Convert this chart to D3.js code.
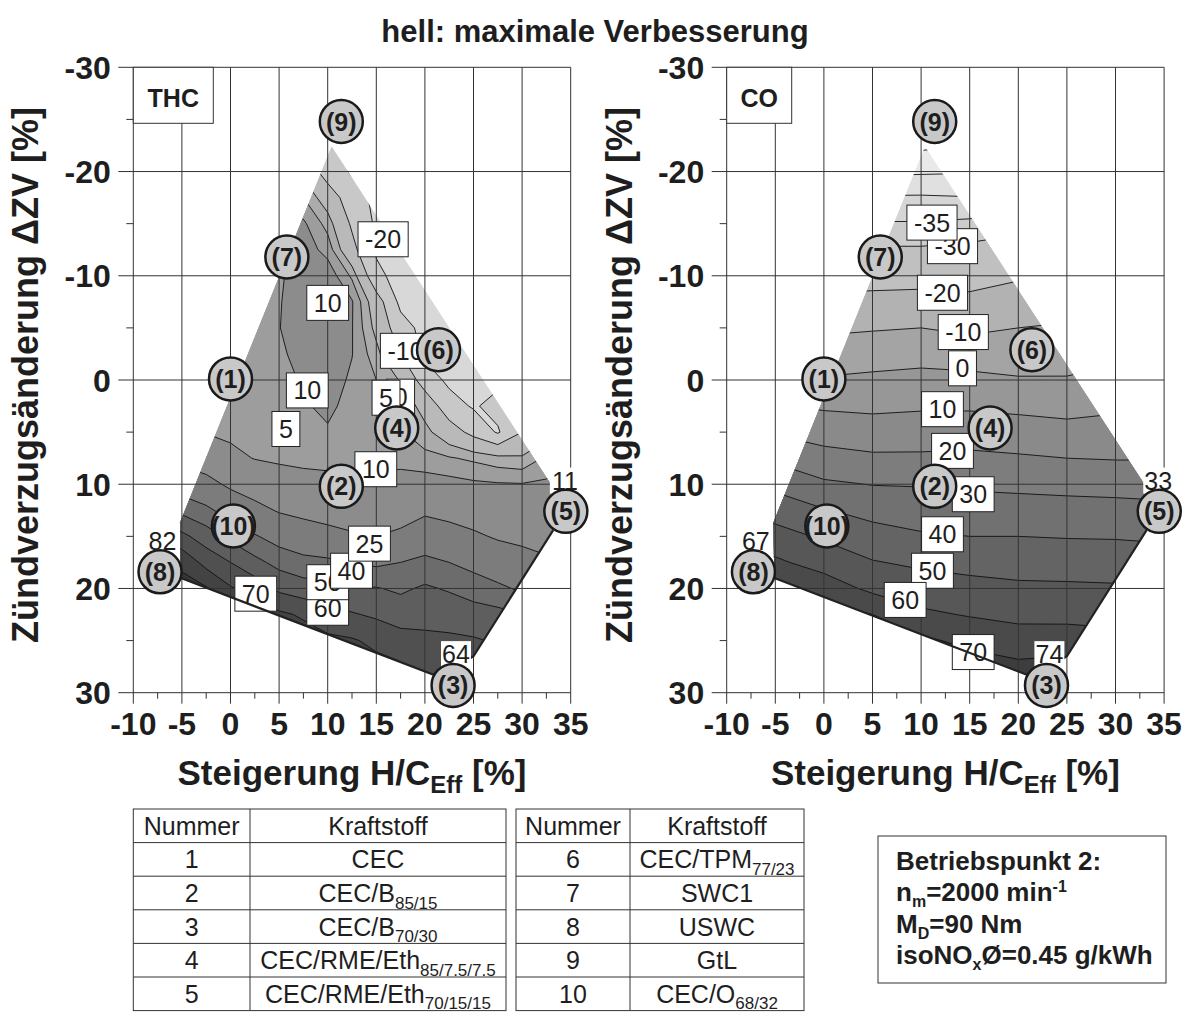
<!DOCTYPE html>
<html>
<head>
<meta charset="utf-8">
<script src="https://cdn.jsdelivr.net/npm/d3@7/dist/d3.min.js"></script>
<style>
  body { margin: 0; background: #fff; }
  svg { display: block; font-family: "Liberation Sans", Arial, Helvetica, sans-serif; }
</style>
</head>
<body>
<svg id="chart" width="1189" height="1012"></svg>
<script>
// ---- axes ----
const xTickValues = [-10, -5, 0, 5, 10, 15, 20, 25, 30, 35];
const xMinorValues = [-7.5, -2.5, 2.5, 7.5, 12.5, 17.5, 22.5, 27.5, 32.5];
const yTickValues = [-30, -20, -10, 0, 10, 20, 30];
const yMinorValues = [-25, -15, -5, 5, 15, 25];

// ---- outline of the measured field (H/C, dZV) ----
const hullX = [10.4, 33.1, 33.2, 25.0, 21.5, -5.1, -5.2];
const hullY = [-22.4, 10.2, 14.4, 26.5, 28.5, 19.0, 13.7];
const edgeIdx = [2, 3, 4, 5]; // lower edges drawn as a heavy line

// ---- fuel markers ----
const fuelLabel = ['(1)', '(2)', '(3)', '(4)', '(5)', '(6)', '(7)', '(8)', '(9)', '(10)'];
const fuelX = [0, 11.4, 22.9, 17.1, 34.5, 21.4, 5.8, -7.25, 11.4, 0.3];
const fuelY = [-0.1, 10.2, 29.3, 4.6, 12.6, -2.9, -11.8, 18.4, -24.8, 14.0];

// ---- value grids (rows: dZV -25..30 step 2.5) ----
const gridY0 = -25, gridDY = 2.5;

// THC, columns H/C -10..35 step 2.5
const thcX0 = -10, thcDX = 2.5;
const thcGrid = [
  [4, 4, 4, 4, 4, 3, 0, -6, -14, -22, -23, -23, -23, -23, -23, -23, -23, -23, -23],
  [5, 5, 5, 5, 5, 4, 1, -8, -16, -23, -23, -23, -23, -23, -23, -23, -23, -23, -23],
  [7, 7, 7, 7, 7, 6, 4, -2, -15, -21, -23, -23, -23, -23, -23, -23, -23, -23, -23],
  [8, 8, 8, 8, 8, 7, 6, 5, -4, -16, -22, -23, -23, -23, -23, -23, -23, -23, -23],
  [8, 8, 8, 8, 8, 8, 11, 11, 3, -11.5, -21.5, -23, -23, -23, -23, -23, -23, -23, -23],
  [8, 8, 8, 8, 8, 8, 9, 13, 8, -7, -21, -23, -23, -23, -23, -23, -23, -23, -23],
  [8, 8, 8, 8, 8, 8, 9, 13.5, 13.5, 4, -18, -23, -24, -24, -24, -24, -24, -24, -24],
  [8, 8, 8, 8, 8, 8, 9.5, 14, 14, 10.5, -5, -22.5, -24, -24, -24, -24, -24, -24, -24],
  [8, 8, 8, 7.5, 7, 7.5, 9.8, 13.5, 14, 10.3, -2, -16, -23, -24, -24, -24, -24, -24, -24],
  [8, 8, 8, 7.5, 7, 8, 9, 12, 13.5, 10.2, 2, -10, -22, -26, -23, -23, -23, -23, -23],
  [8, 8, 8, 7.5, 7, 7.5, 8.5, 10.5, 13, 9, 5, -0.5, -15, -22, -24, -22, -18, -15, -12],
  [9, 8.5, 8, 7.5, 7, 7.5, 8.5, 9.5, 11, 8.5, 6.5, 5, -3, -16, -21, -17, -12, -8, -4],
  [14, 12, 10, 9.5, 8, 7.5, 7.5, 8.5, 9.5, 8.5, 7, 5.5, 2, -5, -13, -21, -10, -3, 2],
  [27, 24, 20.7, 17.9, 12.8, 9.6, 8.5, 8, 8.5, 9, 9, 8.5, 6.5, 5.5, 4, 2, 1, 6, 9],
  [42, 38, 34, 29.3, 22.6, 18.5, 15, 13.1, 11.6, 10.8, 11, 12, 13, 12, 11, 10.5, 10.3, 11, 12],
  [56, 52, 47.5, 42.5, 34.8, 28.9, 23.9, 21.6, 19.6, 18.1, 18, 19.5, 22.8, 20.9, 19, 17.1, 16.3, 14, 14],
  [71, 67, 62.5, 55, 47.5, 41, 35.3, 31.8, 29.3, 26.6, 25, 27.5, 32.7, 30.1, 26.9, 23.7, 22.2, 20, 19],
  [82, 80, 77.7, 66.5, 60, 52.9, 46.8, 43.3, 42.2, 39.5, 37.9, 40, 42.7, 40, 36.3, 32.5, 29.5, 27, 25],
  [87, 86, 84, 81, 71, 65.9, 57.8, 54.6, 53, 51.2, 50.6, 48.3, 51.4, 48.9, 45.8, 42.2, 38.3, 35, 32],
  [89, 88, 87, 86, 78, 76, 72, 68.6, 64.5, 60.9, 58.4, 55.7, 57, 56.5, 54, 53, 50.5, 45, 42],
  [91, 90, 89, 88, 83, 81, 78, 75, 72, 71, 67.7, 63.8, 62, 61.5, 61, 59, 57, 54, 51],
  [92, 91, 90, 89, 86, 85, 83, 80, 77, 75, 73, 71.5, 66, 63.5, 64, 63, 62, 60, 58],
  [93, 92, 91, 90, 88, 87, 86, 84, 81, 79, 77, 75, 69, 66, 67, 66, 65, 64, 62]
];
const thcLevels = [-25, -20, -10, 0, 5, 10, 25, 40, 50, 60, 70, 80];
const thcFills = ['#e2e2e2', '#d8d8d8', '#c8c8c8', '#b9b9b9', '#ababab', '#9d9d9d', '#8c8c8c',
  '#7c7c7c', '#6c6c6c', '#5e5e5e', '#505050', '#434343', '#373737'];

// CO, columns H/C -10..35 step 5
const coX0 = -10, coDX = 5;
const coGrid = [
  [-57, -57, -57, -57, -57, -58, -58, -58, -58, -58],
  [-51, -51, -51, -51, -51, -50.2, -51, -51, -51, -51],
  [-46, -46, -46, -46, -45.7, -45.4, -45, -45, -45, -45],
  [-40, -40, -40, -39.5, -39.4, -39.8, -38.8, -39, -39, -39],
  [-35, -35, -35, -34.6, -34.6, -33.9, -32.5, -33, -33, -33],
  [-29.5, -29.5, -29.5, -29.3, -29.3, -28.5, -26.7, -27, -27, -27],
  [-24, -24, -24, -23.5, -23.3, -23.3, -21.1, -21.5, -21.5, -21.5],
  [-18, -18, -17.8, -17.4, -16.9, -17.9, -15.6, -16, -16, -16],
  [-12, -12, -11.7, -10.8, -10, -11.9, -10, -8.5, -7.8, -7.5],
  [-5, -5.5, -5.5, -4.4, -3.4, -4.7, -4.7, -4, -2.2, -2],
  [3, 1.8, 0.9, 2, 2.9, 2.5, 0.8, 0.7, 3.1, 3.5],
  [12.5, 10.7, 8.75, 8, 8.8, 8.75, 7.8, 6.8, 8.3, 8.5],
  [21, 19, 16, 14.6, 15, 15.4, 14.5, 13.2, 13.9, 14],
  [30.5, 28.1, 23.4, 21.6, 21.6, 22.1, 21.1, 20, 19.5, 19.5],
  [39.5, 37.4, 31.5, 29.7, 29.4, 28.5, 27.8, 27.1, 26.6, 26],
  [48, 45.8, 40.6, 36.9, 35.2, 34.3, 34, 33.6, 33.2, 32.5],
  [56, 53.75, 48.7, 43.8, 41.1, 40, 40, 39.5, 39.3, 38.5],
  [63, 61.7, 56, 50.6, 48.3, 46.8, 46, 45.6, 45.2, 44.5],
  [71, 70, 65.5, 57.7, 54.8, 53.2, 51.8, 51.6, 51.2, 50.5],
  [77, 76, 74, 70, 61.8, 59.3, 57.5, 57.3, 57, 56.5],
  [81, 80, 78, 75, 72, 67.3, 64.4, 64.6, 63, 62.5],
  [84, 83, 81, 79, 78, 75, 72.2, 73.5, 70, 69],
  [86, 85, 84, 82, 82, 80, 78, 79, 76, 75]
];
const coLevels = [-50, -45, -40, -35, -30, -20, -10, 0, 10, 20, 30, 40, 50, 60, 70];
const coFills = ['#f2f2f2', '#e9e9e9', '#e0e0e0', '#d6d6d6', '#cccccc', '#c0c0c0', '#b2b2b2', '#a4a4a4',
  '#979797', '#8a8a8a', '#7d7d7d', '#717171', '#646464', '#575757', '#4a4a4a', '#3d3d3d'];

// ---- contour labels ----
const thcLabelText = ['0', '5', '-10', '-20', '10', '10', '5', '10', '60', '50', '40', '25', '70'];
const thcLabelX = [17.5, 16.0, 18.0, 15.7, 10.0, 7.9, 5.7, 14.95, 10.0, 10.0, 12.45, 14.3, 2.6];
const thcLabelY = [1.6, 1.7, -2.8, -13.5, -7.4, 1.0, 4.7, 8.56, 21.85, 19.4, 18.3, 15.7, 20.5];
const coLabelText = ['-30', '-35', '-20', '-10', '0', '10', '20', '30', '40', '50', '60', '70'];
const coLabelX = [13.23, 11.12, 12.2, 14.34, 14.26, 12.2, 13.23, 15.36, 12.2, 11.17, 8.36, 15.36];
const coLabelY = [-12.84, -15.1, -8.37, -4.6, -1.12, 2.8, 6.8, 10.96, 14.8, 18.3, 21.1, 26.1];

// values written at the corners (8), (3), (5)
const cornerX = [-7.0, 23.2, 34.4];
const cornerY = [15.45, 26.3, 9.65];
const thcCornerText = ['82', '64', '11'];
const coCornerText = ['67', '74', '33'];

// ---- fuel table ----
const tableNum = ['1', '2', '3', '4', '5', '6', '7', '8', '9', '10'];
const fuelName = ['CEC', 'CEC/B', 'CEC/B', 'CEC/RME/Eth', 'CEC/RME/Eth', 'CEC/TPM', 'SWC1', 'USWC', 'GtL', 'CEC/O'];
const fuelSub = ['', '85/15', '70/30', '85/7.5/7.5', '70/15/15', '77/23', '', '', '', '68/32'];

const svg = d3.select('#chart');
const ink = '#1e1e1e';
const plotTop = 67.3, plotBottom = 692.7, plotW = 437.4;

svg.append('text')
  .attr('x', 595).attr('y', 42)
  .attr('text-anchor', 'middle')
  .attr('font-size', 31).attr('font-weight', 'bold').attr('fill', ink)
  .text('hell: maximale Verbesserung');

function drawPanel(p) {
  const x = d3.scaleLinear().domain([-10, 35]).range([p.left, p.left + plotW]);
  const y = d3.scaleLinear().domain([-30, 30]).range([plotTop, plotBottom]);
  const g = svg.append('g');

  const hullPts = hullX.map((hx, i) => [x(hx), y(hullY[i])]);
  svg.append('clipPath').attr('id', 'clip-' + p.name)
    .append('polygon').attr('points', hullPts.join(' '));

  // filled contour bands
  const ny = p.grid.length, nx = p.grid[0].length;
  const contours = d3.contours().size([nx, ny]).thresholds(p.levels)(p.grid.flat());
  const proj = d3.geoTransform({
    point(cx, cy) {
      this.stream.point(x(p.gx0 + (cx - 0.5) * p.gdx), y(gridY0 + (cy - 0.5) * gridDY));
    }
  });
  const path = d3.geoPath(proj);
  const field = g.append('g').attr('clip-path', `url(#clip-${p.name})`);
  field.append('polygon').attr('points', hullPts.join(' ')).attr('fill', p.fills[0]);
  field.selectAll('path.band').data(contours).join('path')
    .attr('class', 'band').attr('d', path).attr('fill', (d, i) => p.fills[i + 1]);
  field.selectAll('path.iso').data(contours).join('path')
    .attr('class', 'iso').attr('d', path)
    .attr('fill', 'none').attr('stroke', '#111').attr('stroke-width', 0.9);

  // grid
  g.append('g').selectAll('line').data(xTickValues).join('line')
    .attr('x1', d => x(d)).attr('x2', d => x(d))
    .attr('y1', plotTop).attr('y2', plotBottom + 11)
    .attr('stroke', '#333').attr('stroke-width', 1);
  g.append('g').selectAll('line').data(yTickValues).join('line')
    .attr('x1', x(-10) - 15).attr('x2', x(35))
    .attr('y1', d => y(d)).attr('y2', d => y(d))
    .attr('stroke', '#333').attr('stroke-width', 1);
  g.append('g').selectAll('line').data(xMinorValues).join('line')
    .attr('x1', d => x(d)).attr('x2', d => x(d))
    .attr('y1', plotBottom).attr('y2', plotBottom + 6)
    .attr('stroke', '#333');
  g.append('g').selectAll('line').data(yMinorValues).join('line')
    .attr('x1', x(-10) - 7).attr('x2', x(-10))
    .attr('y1', d => y(d)).attr('y2', d => y(d))
    .attr('stroke', '#333');

  // tick labels
  g.append('g').selectAll('text').data(xTickValues).join('text')
    .attr('x', d => x(d)).attr('y', 735)
    .attr('text-anchor', 'middle')
    .attr('font-size', 32).attr('font-weight', 'bold').attr('fill', ink)
    .text(d => d);
  g.append('g').selectAll('text').data(yTickValues).join('text')
    .attr('x', x(-10) - 22.5).attr('y', d => y(d) + 11.5)
    .attr('text-anchor', 'end')
    .attr('font-size', 32).attr('font-weight', 'bold').attr('fill', ink)
    .text(d => d);

  // axis titles
  const xt = g.append('text')
    .attr('x', (x(-10) + x(35)) / 2).attr('y', 785)
    .attr('text-anchor', 'middle')
    .attr('font-size', 35).attr('font-weight', 'bold').attr('fill', ink);
  xt.append('tspan').text('Steigerung H/C');
  xt.append('tspan').attr('font-size', 24).attr('dy', 8).text('Eff');
  xt.append('tspan').attr('dy', -8).text(' [%]');
  g.append('text')
    .attr('transform', `translate(${x(-10) - 95},375) rotate(-90)`)
    .attr('text-anchor', 'middle')
    .attr('font-size', 36).attr('font-weight', 'bold').attr('fill', ink)
    .text('Zündverzugsänderung \u0394ZV [%]');

  // contour value boxes
  const lab = g.append('g').selectAll('g').data(p.labelText).join('g')
    .attr('transform', (d, i) => `translate(${x(p.labelX[i])},${y(p.labelY[i])})`);
  lab.append('rect');
  lab.append('text')
    .attr('y', 9).attr('text-anchor', 'middle')
    .attr('font-size', 25).attr('fill', ink)
    .text(d => d);
  lab.each(function () {
    const grp = d3.select(this);
    const w = grp.select('text').node().getComputedTextLength() + 14;
    grp.select('rect')
      .attr('x', -w / 2).attr('y', -17.5).attr('width', w).attr('height', 35)
      .attr('fill', '#fff').attr('stroke', '#222').attr('stroke-width', 1);
  });

  // heavy lower edge of the field
  g.append('polyline')
    .attr('points', edgeIdx.map(i => hullPts[i]).join(' '))
    .attr('fill', 'none').attr('stroke', '#222').attr('stroke-width', 2.2);

  // corner values
  const cor = g.append('g').selectAll('g').data(p.cornerText).join('g')
    .attr('transform', (d, i) => `translate(${x(cornerX[i])},${y(cornerY[i])})`);
  cor.append('rect')
    .attr('x', -15).attr('y', -13).attr('width', 30).attr('height', 26)
    .attr('fill', '#fff');
  cor.append('text')
    .attr('y', 9).attr('text-anchor', 'middle')
    .attr('font-size', 25).attr('fill', ink)
    .text(d => d);

  // fuel circles
  const fc = g.append('g').selectAll('g').data(fuelLabel).join('g')
    .attr('transform', (d, i) => `translate(${x(fuelX[i])},${y(fuelY[i])})`);
  fc.append('circle').attr('r', 21.5)
    .attr('fill', '#c8c8c8').attr('stroke', '#1a1a1a').attr('stroke-width', 2.5);
  fc.append('text')
    .attr('y', 9).attr('text-anchor', 'middle')
    .attr('font-size', 25).attr('font-weight', 'bold').attr('fill', ink)
    .text(d => d);

  // panel name
  g.append('rect')
    .attr('x', x(-10)).attr('y', plotTop).attr('width', p.nameW).attr('height', 56)
    .attr('fill', '#fff').attr('stroke', '#333');
  g.append('text')
    .attr('x', x(-10) + p.nameW / 2).attr('y', plotTop + 39.5)
    .attr('text-anchor', 'middle')
    .attr('font-size', 25).attr('font-weight', 'bold').attr('fill', ink)
    .text(p.title);
}

drawPanel({
  name: 'thc', title: 'THC', nameW: 80, left: 133.3,
  grid: thcGrid, gx0: thcX0, gdx: thcDX, levels: thcLevels, fills: thcFills,
  labelText: thcLabelText, labelX: thcLabelX, labelY: thcLabelY, cornerText: thcCornerText
});
drawPanel({
  name: 'co', title: 'CO', nameW: 65, left: 726.7,
  grid: coGrid, gx0: coX0, gdx: coDX, levels: coLevels, fills: coFills,
  labelText: coLabelText, labelX: coLabelX, labelY: coLabelY, cornerText: coCornerText
});

// ---- fuel tables ----
const tables = [
  { left: 133.3, mid: 250, right: 506, from: 0 },
  { left: 516, mid: 630, right: 804, from: 5 }
];
const rowTop = 809, rowH = 33.6;
tables.forEach(t => {
  const tg = svg.append('g');
  tg.append('rect')
    .attr('x', t.left).attr('y', rowTop).attr('width', t.right - t.left).attr('height', rowH * 6)
    .attr('fill', 'none').attr('stroke', '#333');
  tg.append('line').attr('x1', t.mid).attr('x2', t.mid)
    .attr('y1', rowTop).attr('y2', rowTop + rowH * 6).attr('stroke', '#333');
  tg.selectAll('line.row').data([1, 2, 3, 4, 5]).join('line')
    .attr('class', 'row')
    .attr('x1', t.left).attr('x2', t.right)
    .attr('y1', d => rowTop + d * rowH).attr('y2', d => rowTop + d * rowH)
    .attr('stroke', '#333');
  const cNum = (t.left + t.mid) / 2, cName = (t.mid + t.right) / 2;
  tg.append('text').attr('x', cNum).attr('y', rowTop + 25.8)
    .attr('text-anchor', 'middle').attr('font-size', 25).attr('fill', ink).text('Nummer');
  tg.append('text').attr('x', cName).attr('y', rowTop + 25.8)
    .attr('text-anchor', 'middle').attr('font-size', 25).attr('fill', ink).text('Kraftstoff');
  for (let k = 0; k < 5; k++) {
    const i = t.from + k;
    const by = rowTop + (k + 1) * rowH + 25.8;
    tg.append('text').attr('x', cNum).attr('y', by)
      .attr('text-anchor', 'middle').attr('font-size', 25).attr('fill', ink).text(tableNum[i]);
    const nt = tg.append('text').attr('x', cName).attr('y', by)
      .attr('text-anchor', 'middle').attr('font-size', 25).attr('fill', ink);
    nt.append('tspan').text(fuelName[i]);
    if (fuelSub[i]) nt.append('tspan').attr('font-size', 17).attr('dy', 6.5).text(fuelSub[i]);
  }
});

// ---- operating point box ----
const info = svg.append('g');
info.append('rect')
  .attr('x', 878).attr('y', 836).attr('width', 288).attr('height', 147)
  .attr('fill', '#fff').attr('stroke', '#333');
const infoText = (yy) => info.append('text')
  .attr('x', 896).attr('y', yy)
  .attr('font-size', 26).attr('font-weight', 'bold').attr('fill', ink);
infoText(870).text('Betriebspunkt 2:');
const l2 = infoText(901);
l2.append('tspan').text('n');
l2.append('tspan').attr('font-size', 16).attr('dy', 6).text('m');
l2.append('tspan').attr('dy', -6).text('=2000 min');
l2.append('tspan').attr('font-size', 16).attr('dy', -9).text('-1');
const l3 = infoText(933);
l3.append('tspan').text('M');
l3.append('tspan').attr('font-size', 16).attr('dy', 6).text('D');
l3.append('tspan').attr('dy', -6).text('=90 Nm');
const l4 = infoText(964);
l4.append('tspan').text('isoNO');
l4.append('tspan').attr('font-size', 16).attr('dy', 6).text('x');
l4.append('tspan').attr('dy', -6).text('Ø=0.45 g/kWh');
</script>
</body>
</html>
